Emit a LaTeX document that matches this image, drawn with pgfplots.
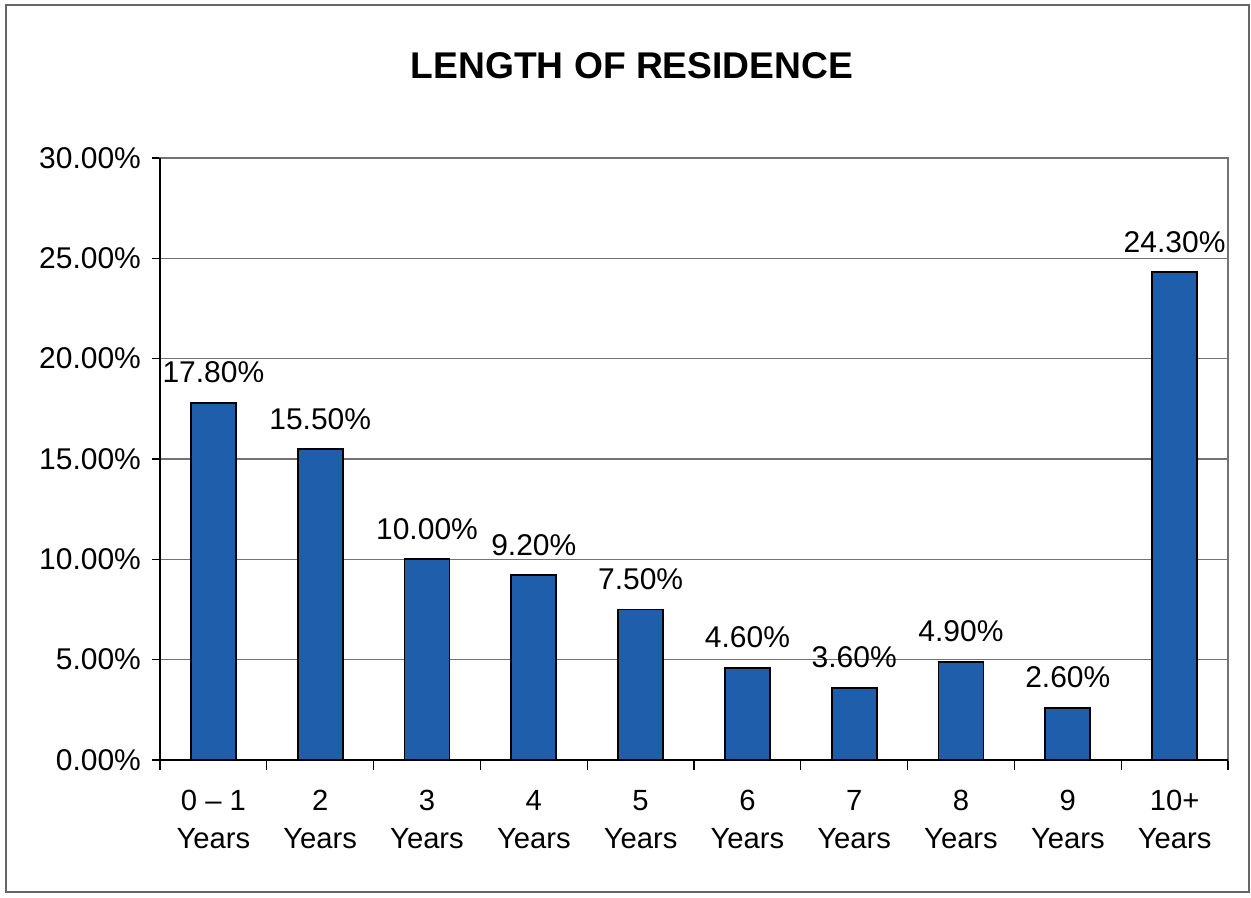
\documentclass[border=0pt]{standalone}
\usepackage{pgfplots}
\pgfplotsset{compat=1.18}
\usepackage{fontspec}
\setmainfont{Liberation Sans}
\definecolor{barblue}{RGB}{30,94,170}
\begin{document}
\begin{tikzpicture}[x=1pt,y=1pt]
\useasboundingbox (0,0) rectangle (625.5,449);
\draw[black!60, line width=0.6pt] (3,3) rectangle (624.5,446.5);
\node[font=\bfseries\fontsize{18.6}{22}\selectfont] at (316,416) {LENGTH OF RESIDENCE};
\begin{axis}[
  at={(80pt,69pt)}, anchor=south west,
  scale only axis, width=534pt, height=301pt,
  xmin=-0.5, xmax=9.5, ymin=0, ymax=30,
  ytick={0,5,...,30},
  xtick={0,...,9},
  xticklabels={{0 – 1\\Years},{2\\Years},{3\\Years},{4\\Years},{5\\Years},{6\\Years},{7\\Years},{8\\Years},{9\\Years},{10+\\Years}},
  xticklabel style={align=center, font=\fontsize{14.6}{19}\selectfont, yshift=-7.5pt},
  yticklabel style={font=\fontsize{15}{17}\selectfont, xshift=-2pt},
  yticklabel={\pgfmathprintnumber[fixed,fixed zerofill,precision=2]{\tick}\%},
  /pgf/number format/assume math mode=true,
  major x tick style={draw=none},
  minor xtick={-0.5,0.5,...,9.5},
  tick pos=left,
  tick align=outside,
  major tick length=4pt,
  minor tick length=5pt,
  tick style={black, line width=0.6pt},
  ymajorgrids,
  grid style={black!55, line width=0.6pt},
  axis line style={black!55, line width=0.6pt},
  ybar, bar width=22.5pt,
  nodes near coords={\pgfmathprintnumber[fixed,fixed zerofill,precision=2]{\pgfplotspointmeta}\%},
  nodes near coords style={font=\fontsize{15}{17}\selectfont, black, yshift=6pt},
  clip=false,
]
\addplot[fill=barblue, draw=black, line width=0.9pt] coordinates {
  (0,17.8) (1,15.5) (2,10.0) (3,9.2) (4,7.5) (5,4.6) (6,3.6) (7,4.9) (8,2.6) (9,24.3)
};
\draw[black, line width=0.7pt] (rel axis cs:0,1) -- (rel axis cs:0,0) -- (rel axis cs:1,0);
\end{axis}
\end{tikzpicture}
\end{document}
